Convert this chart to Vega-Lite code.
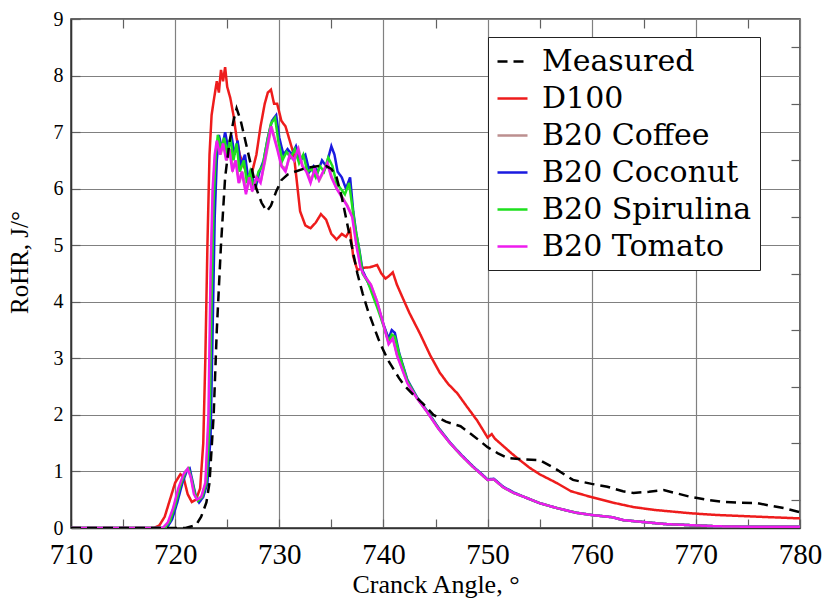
{
  "$schema": "https://vega.github.io/schema/vega-lite/v6.json",
  "width": 729,
  "height": 509,
  "autosize": "none",
  "padding": {"left": 71, "top": 19, "right": 24, "bottom": 71},
  "background": "white",
  "datasets": {
    "d": [
      {"s":"D100","a":710,"r":0},{"s":"D100","a":718,"r":0},{"s":"D100","a":718.5,"r":0.05},{"s":"D100","a":719,"r":0.2},{"s":"D100","a":719.5,"r":0.5},{"s":"D100","a":720,"r":0.8},{"s":"D100","a":720.5,"r":0.95},{"s":"D100","a":720.8,"r":0.9},{"s":"D100","a":721.2,"r":0.6},{"s":"D100","a":721.6,"r":0.46},{"s":"D100","a":722,"r":0.5},{"s":"D100","a":722.4,"r":0.7},{"s":"D100","a":722.7,"r":1.5},{"s":"D100","a":722.9,"r":3.0},{"s":"D100","a":723.1,"r":5.0},{"s":"D100","a":723.3,"r":6.6},{"s":"D100","a":723.5,"r":7.3},{"s":"D100","a":723.7,"r":7.55},{"s":"D100","a":724,"r":7.9},{"s":"D100","a":724.2,"r":7.7},{"s":"D100","a":724.4,"r":8.1},{"s":"D100","a":724.6,"r":7.9},{"s":"D100","a":724.8,"r":8.15},{"s":"D100","a":725,"r":7.8},{"s":"D100","a":725.3,"r":7.6},{"s":"D100","a":725.6,"r":7.3},{"s":"D100","a":725.9,"r":6.9},{"s":"D100","a":726.2,"r":6.6},{"s":"D100","a":726.6,"r":6.4},{"s":"D100","a":727,"r":6.2},{"s":"D100","a":727.4,"r":6.3},{"s":"D100","a":727.8,"r":6.6},{"s":"D100","a":728.2,"r":7.1},{"s":"D100","a":728.6,"r":7.5},{"s":"D100","a":728.9,"r":7.7},{"s":"D100","a":729.2,"r":7.75},{"s":"D100","a":729.5,"r":7.5},{"s":"D100","a":729.8,"r":7.5},{"s":"D100","a":730.2,"r":7.2},{"s":"D100","a":730.6,"r":7.1},{"s":"D100","a":731,"r":6.85},{"s":"D100","a":731.4,"r":6.6},{"s":"D100","a":731.7,"r":6.1},{"s":"D100","a":732,"r":5.6},{"s":"D100","a":732.5,"r":5.35},{"s":"D100","a":733,"r":5.3},{"s":"D100","a":733.5,"r":5.4},{"s":"D100","a":734,"r":5.55},{"s":"D100","a":734.5,"r":5.45},{"s":"D100","a":735,"r":5.2},{"s":"D100","a":735.5,"r":5.1},{"s":"D100","a":736,"r":5.2},{"s":"D100","a":736.4,"r":5.15},{"s":"D100","a":736.8,"r":5.27},{"s":"D100","a":737.1,"r":4.8},{"s":"D100","a":737.5,"r":4.56},{"s":"D100","a":738,"r":4.6},{"s":"D100","a":738.7,"r":4.61},{"s":"D100","a":739.4,"r":4.65},{"s":"D100","a":739.8,"r":4.5},{"s":"D100","a":740.2,"r":4.41},{"s":"D100","a":740.5,"r":4.45},{"s":"D100","a":740.9,"r":4.52},{"s":"D100","a":741.3,"r":4.3},{"s":"D100","a":741.8,"r":4.09},{"s":"D100","a":742.5,"r":3.8},{"s":"D100","a":743.5,"r":3.44},{"s":"D100","a":744.5,"r":3.05},{"s":"D100","a":745.4,"r":2.75},{"s":"D100","a":746.2,"r":2.55},{"s":"D100","a":747.1,"r":2.38},{"s":"D100","a":748,"r":2.15},{"s":"D100","a":749,"r":1.9},{"s":"D100","a":750,"r":1.6},{"s":"D100","a":750.4,"r":1.66},{"s":"D100","a":750.7,"r":1.58},{"s":"D100","a":751.5,"r":1.45},{"s":"D100","a":752.3,"r":1.32},{"s":"D100","a":753.1,"r":1.2},{"s":"D100","a":754,"r":1.07},{"s":"D100","a":755,"r":0.95},{"s":"D100","a":756.7,"r":0.79},{"s":"D100","a":758,"r":0.65},{"s":"D100","a":759.9,"r":0.55},{"s":"D100","a":762,"r":0.45},{"s":"D100","a":764,"r":0.37},{"s":"D100","a":766,"r":0.32},{"s":"D100","a":769.5,"r":0.26},{"s":"D100","a":772,"r":0.23},{"s":"D100","a":775.9,"r":0.2},{"s":"D100","a":780,"r":0.17},

      {"s":"B20 Coffee","a":710,"r":0},{"s":"B20 Coffee","a":718.9,"r":0},{"s":"B20 Coffee","a":719.4,"r":0.1},{"s":"B20 Coffee","a":719.9,"r":0.38},{"s":"B20 Coffee","a":720.4,"r":0.72},{"s":"B20 Coffee","a":720.9,"r":0.97},{"s":"B20 Coffee","a":721.25,"r":1.05},{"s":"B20 Coffee","a":721.55,"r":0.88},{"s":"B20 Coffee","a":721.85,"r":0.6},{"s":"B20 Coffee","a":722.15,"r":0.5},{"s":"B20 Coffee","a":722.55,"r":0.55},{"s":"B20 Coffee","a":722.95,"r":0.8},{"s":"B20 Coffee","a":723.25,"r":2.0},{"s":"B20 Coffee","a":723.45,"r":4.5},{"s":"B20 Coffee","a":723.65,"r":6.0},{"s":"B20 Coffee","a":723.85,"r":6.6},{"s":"B20 Coffee","a":724.05,"r":6.85},{"s":"B20 Coffee","a":724.35,"r":6.6},{"s":"B20 Coffee","a":724.65,"r":6.8},{"s":"B20 Coffee","a":724.95,"r":6.5},{"s":"B20 Coffee","a":725.25,"r":6.7},{"s":"B20 Coffee","a":725.55,"r":6.35},{"s":"B20 Coffee","a":725.85,"r":6.5},{"s":"B20 Coffee","a":726.15,"r":6.1},{"s":"B20 Coffee","a":726.45,"r":6.3},{"s":"B20 Coffee","a":726.85,"r":5.95},{"s":"B20 Coffee","a":727.15,"r":6.2},{"s":"B20 Coffee","a":727.45,"r":6.0},{"s":"B20 Coffee","a":727.85,"r":6.2},{"s":"B20 Coffee","a":728.25,"r":6.15},{"s":"B20 Coffee","a":728.65,"r":6.5},{"s":"B20 Coffee","a":728.95,"r":6.8},{"s":"B20 Coffee","a":729.25,"r":7.1},{"s":"B20 Coffee","a":729.55,"r":6.9},{"s":"B20 Coffee","a":729.85,"r":6.7},{"s":"B20 Coffee","a":730.25,"r":6.4},{"s":"B20 Coffee","a":730.65,"r":6.35},{"s":"B20 Coffee","a":731.05,"r":6.6},{"s":"B20 Coffee","a":731.45,"r":6.5},{"s":"B20 Coffee","a":731.85,"r":6.7},{"s":"B20 Coffee","a":732.25,"r":6.4},{"s":"B20 Coffee","a":732.65,"r":6.3},{"s":"B20 Coffee","a":733.05,"r":6.15},{"s":"B20 Coffee","a":733.45,"r":6.35},{"s":"B20 Coffee","a":733.85,"r":6.15},{"s":"B20 Coffee","a":734.25,"r":6.3},{"s":"B20 Coffee","a":734.65,"r":6.45},{"s":"B20 Coffee","a":735.05,"r":6.2},{"s":"B20 Coffee","a":735.55,"r":6.0},{"s":"B20 Coffee","a":736.05,"r":5.85},{"s":"B20 Coffee","a":736.55,"r":5.7},{"s":"B20 Coffee","a":737.05,"r":5.5},{"s":"B20 Coffee","a":737.45,"r":5.0},{"s":"B20 Coffee","a":737.85,"r":4.6},{"s":"B20 Coffee","a":738.25,"r":4.45},{"s":"B20 Coffee","a":738.8,"r":4.3},{"s":"B20 Coffee","a":739.4,"r":4.0},{"s":"B20 Coffee","a":740,"r":3.6},{"s":"B20 Coffee","a":740.5,"r":3.27},{"s":"B20 Coffee","a":740.9,"r":3.38},{"s":"B20 Coffee","a":741.3,"r":3.07},{"s":"B20 Coffee","a":742.3,"r":2.57},{"s":"B20 Coffee","a":743.2,"r":2.3},{"s":"B20 Coffee","a":744.2,"r":2.05},{"s":"B20 Coffee","a":745.3,"r":1.75},{"s":"B20 Coffee","a":746.4,"r":1.5},{"s":"B20 Coffee","a":747.5,"r":1.28},{"s":"B20 Coffee","a":748.6,"r":1.08},{"s":"B20 Coffee","a":749.4,"r":0.95},{"s":"B20 Coffee","a":750,"r":0.85},{"s":"B20 Coffee","a":750.6,"r":0.86},{"s":"B20 Coffee","a":751.5,"r":0.72},{"s":"B20 Coffee","a":752.5,"r":0.62},{"s":"B20 Coffee","a":753.5,"r":0.55},{"s":"B20 Coffee","a":755,"r":0.44},{"s":"B20 Coffee","a":756.7,"r":0.35},{"s":"B20 Coffee","a":758.5,"r":0.27},{"s":"B20 Coffee","a":760,"r":0.23},{"s":"B20 Coffee","a":761.5,"r":0.2},{"s":"B20 Coffee","a":762,"r":0.19},{"s":"B20 Coffee","a":763,"r":0.14},{"s":"B20 Coffee","a":764.7,"r":0.11},{"s":"B20 Coffee","a":767,"r":0.07},{"s":"B20 Coffee","a":769.5,"r":0.05},{"s":"B20 Coffee","a":772,"r":0.03},{"s":"B20 Coffee","a":776,"r":0.02},{"s":"B20 Coffee","a":780,"r":0.02},

      {"s":"B20 Coconut","a":710,"r":0},{"s":"B20 Coconut","a":719.2,"r":0},{"s":"B20 Coconut","a":719.7,"r":0.15},{"s":"B20 Coconut","a":720.2,"r":0.45},{"s":"B20 Coconut","a":720.7,"r":0.8},{"s":"B20 Coconut","a":721.1,"r":1.0},{"s":"B20 Coconut","a":721.4,"r":1.05},{"s":"B20 Coconut","a":721.7,"r":0.8},{"s":"B20 Coconut","a":722,"r":0.55},{"s":"B20 Coconut","a":722.3,"r":0.45},{"s":"B20 Coconut","a":722.7,"r":0.55},{"s":"B20 Coconut","a":723.1,"r":0.8},{"s":"B20 Coconut","a":723.4,"r":1.6},{"s":"B20 Coconut","a":723.6,"r":3.5},{"s":"B20 Coconut","a":723.8,"r":5.5},{"s":"B20 Coconut","a":724,"r":6.5},{"s":"B20 Coconut","a":724.2,"r":6.95},{"s":"B20 Coconut","a":724.5,"r":6.7},{"s":"B20 Coconut","a":724.8,"r":7.0},{"s":"B20 Coconut","a":725.1,"r":6.7},{"s":"B20 Coconut","a":725.4,"r":6.95},{"s":"B20 Coconut","a":725.7,"r":6.6},{"s":"B20 Coconut","a":726,"r":6.85},{"s":"B20 Coconut","a":726.3,"r":6.4},{"s":"B20 Coconut","a":726.7,"r":6.6},{"s":"B20 Coconut","a":727,"r":6.2},{"s":"B20 Coconut","a":727.3,"r":6.3},{"s":"B20 Coconut","a":727.7,"r":6.0},{"s":"B20 Coconut","a":728.1,"r":6.3},{"s":"B20 Coconut","a":728.5,"r":6.5},{"s":"B20 Coconut","a":728.9,"r":6.9},{"s":"B20 Coconut","a":729.3,"r":7.2},{"s":"B20 Coconut","a":729.7,"r":7.3},{"s":"B20 Coconut","a":730,"r":6.9},{"s":"B20 Coconut","a":730.4,"r":6.6},{"s":"B20 Coconut","a":730.8,"r":6.7},{"s":"B20 Coconut","a":731.2,"r":6.6},{"s":"B20 Coconut","a":731.6,"r":6.75},{"s":"B20 Coconut","a":732,"r":6.5},{"s":"B20 Coconut","a":732.5,"r":6.6},{"s":"B20 Coconut","a":732.9,"r":6.3},{"s":"B20 Coconut","a":733.3,"r":6.4},{"s":"B20 Coconut","a":733.7,"r":6.3},{"s":"B20 Coconut","a":734.1,"r":6.5},{"s":"B20 Coconut","a":734.5,"r":6.4},{"s":"B20 Coconut","a":735,"r":6.75},{"s":"B20 Coconut","a":735.3,"r":6.6},{"s":"B20 Coconut","a":735.6,"r":6.3},{"s":"B20 Coconut","a":736,"r":6.2},{"s":"B20 Coconut","a":736.4,"r":6.0},{"s":"B20 Coconut","a":736.8,"r":6.2},{"s":"B20 Coconut","a":737.1,"r":5.6},{"s":"B20 Coconut","a":737.4,"r":5.2},{"s":"B20 Coconut","a":737.7,"r":4.9},{"s":"B20 Coconut","a":738,"r":4.55},{"s":"B20 Coconut","a":738.5,"r":4.35},{"s":"B20 Coconut","a":739,"r":4.15},{"s":"B20 Coconut","a":739.5,"r":3.9},{"s":"B20 Coconut","a":740,"r":3.6},{"s":"B20 Coconut","a":740.5,"r":3.35},{"s":"B20 Coconut","a":740.8,"r":3.5},{"s":"B20 Coconut","a":741.1,"r":3.45},{"s":"B20 Coconut","a":741.5,"r":3.1},{"s":"B20 Coconut","a":742.3,"r":2.62},{"s":"B20 Coconut","a":743.2,"r":2.32},{"s":"B20 Coconut","a":744.2,"r":2.07},{"s":"B20 Coconut","a":745.3,"r":1.77},{"s":"B20 Coconut","a":746.4,"r":1.51},{"s":"B20 Coconut","a":747.5,"r":1.29},{"s":"B20 Coconut","a":748.6,"r":1.09},{"s":"B20 Coconut","a":749.4,"r":0.96},{"s":"B20 Coconut","a":750,"r":0.86},{"s":"B20 Coconut","a":750.6,"r":0.87},{"s":"B20 Coconut","a":751.5,"r":0.73},{"s":"B20 Coconut","a":752.5,"r":0.63},{"s":"B20 Coconut","a":753.5,"r":0.55},{"s":"B20 Coconut","a":755,"r":0.44},{"s":"B20 Coconut","a":756.7,"r":0.35},{"s":"B20 Coconut","a":758.5,"r":0.27},{"s":"B20 Coconut","a":760,"r":0.23},{"s":"B20 Coconut","a":761.5,"r":0.2},{"s":"B20 Coconut","a":762,"r":0.19},{"s":"B20 Coconut","a":763,"r":0.14},{"s":"B20 Coconut","a":764.7,"r":0.11},{"s":"B20 Coconut","a":767,"r":0.07},{"s":"B20 Coconut","a":769.5,"r":0.05},{"s":"B20 Coconut","a":772,"r":0.03},{"s":"B20 Coconut","a":776,"r":0.02},{"s":"B20 Coconut","a":780,"r":0.02},

      {"s":"B20 Spirulina","a":710,"r":0},{"s":"B20 Spirulina","a":719,"r":0},{"s":"B20 Spirulina","a":719.5,"r":0.12},{"s":"B20 Spirulina","a":720,"r":0.4},{"s":"B20 Spirulina","a":720.5,"r":0.75},{"s":"B20 Spirulina","a":721,"r":1.0},{"s":"B20 Spirulina","a":721.3,"r":1.05},{"s":"B20 Spirulina","a":721.6,"r":0.85},{"s":"B20 Spirulina","a":721.9,"r":0.6},{"s":"B20 Spirulina","a":722.2,"r":0.48},{"s":"B20 Spirulina","a":722.6,"r":0.55},{"s":"B20 Spirulina","a":723,"r":0.8},{"s":"B20 Spirulina","a":723.3,"r":1.8},{"s":"B20 Spirulina","a":723.5,"r":4.0},{"s":"B20 Spirulina","a":723.7,"r":5.8},{"s":"B20 Spirulina","a":723.9,"r":6.6},{"s":"B20 Spirulina","a":724.1,"r":6.95},{"s":"B20 Spirulina","a":724.4,"r":6.7},{"s":"B20 Spirulina","a":724.7,"r":6.9},{"s":"B20 Spirulina","a":725,"r":6.6},{"s":"B20 Spirulina","a":725.3,"r":6.9},{"s":"B20 Spirulina","a":725.6,"r":6.5},{"s":"B20 Spirulina","a":725.9,"r":6.8},{"s":"B20 Spirulina","a":726.2,"r":6.3},{"s":"B20 Spirulina","a":726.6,"r":6.5},{"s":"B20 Spirulina","a":726.9,"r":6.1},{"s":"B20 Spirulina","a":727.2,"r":6.3},{"s":"B20 Spirulina","a":727.6,"r":6.0},{"s":"B20 Spirulina","a":728,"r":6.3},{"s":"B20 Spirulina","a":728.4,"r":6.4},{"s":"B20 Spirulina","a":728.8,"r":6.8},{"s":"B20 Spirulina","a":729.2,"r":7.15},{"s":"B20 Spirulina","a":729.6,"r":7.25},{"s":"B20 Spirulina","a":729.9,"r":6.85},{"s":"B20 Spirulina","a":730.3,"r":6.5},{"s":"B20 Spirulina","a":730.7,"r":6.65},{"s":"B20 Spirulina","a":731.1,"r":6.55},{"s":"B20 Spirulina","a":731.5,"r":6.7},{"s":"B20 Spirulina","a":731.9,"r":6.45},{"s":"B20 Spirulina","a":732.3,"r":6.6},{"s":"B20 Spirulina","a":732.7,"r":6.3},{"s":"B20 Spirulina","a":733.1,"r":6.35},{"s":"B20 Spirulina","a":733.5,"r":6.2},{"s":"B20 Spirulina","a":733.9,"r":6.4},{"s":"B20 Spirulina","a":734.3,"r":6.3},{"s":"B20 Spirulina","a":734.7,"r":6.55},{"s":"B20 Spirulina","a":735.1,"r":6.4},{"s":"B20 Spirulina","a":735.5,"r":6.1},{"s":"B20 Spirulina","a":735.9,"r":6.0},{"s":"B20 Spirulina","a":736.3,"r":5.9},{"s":"B20 Spirulina","a":736.7,"r":6.1},{"s":"B20 Spirulina","a":737,"r":5.7},{"s":"B20 Spirulina","a":737.3,"r":5.3},{"s":"B20 Spirulina","a":737.6,"r":5.0},{"s":"B20 Spirulina","a":738,"r":4.5},{"s":"B20 Spirulina","a":738.5,"r":4.35},{"s":"B20 Spirulina","a":739,"r":4.1},{"s":"B20 Spirulina","a":739.5,"r":3.85},{"s":"B20 Spirulina","a":740,"r":3.58},{"s":"B20 Spirulina","a":740.5,"r":3.3},{"s":"B20 Spirulina","a":740.8,"r":3.42},{"s":"B20 Spirulina","a":741.1,"r":3.38},{"s":"B20 Spirulina","a":741.5,"r":3.08},{"s":"B20 Spirulina","a":742.3,"r":2.6},{"s":"B20 Spirulina","a":743.2,"r":2.31},{"s":"B20 Spirulina","a":744.2,"r":2.06},{"s":"B20 Spirulina","a":745.3,"r":1.76},{"s":"B20 Spirulina","a":746.4,"r":1.5},{"s":"B20 Spirulina","a":747.5,"r":1.28},{"s":"B20 Spirulina","a":748.6,"r":1.08},{"s":"B20 Spirulina","a":749.4,"r":0.95},{"s":"B20 Spirulina","a":750,"r":0.85},{"s":"B20 Spirulina","a":750.6,"r":0.86},{"s":"B20 Spirulina","a":751.5,"r":0.72},{"s":"B20 Spirulina","a":752.5,"r":0.62},{"s":"B20 Spirulina","a":753.5,"r":0.55},{"s":"B20 Spirulina","a":755,"r":0.44},{"s":"B20 Spirulina","a":756.7,"r":0.35},{"s":"B20 Spirulina","a":758.5,"r":0.27},{"s":"B20 Spirulina","a":760,"r":0.23},{"s":"B20 Spirulina","a":761.5,"r":0.2},{"s":"B20 Spirulina","a":762,"r":0.19},{"s":"B20 Spirulina","a":763,"r":0.14},{"s":"B20 Spirulina","a":764.7,"r":0.11},{"s":"B20 Spirulina","a":767,"r":0.07},{"s":"B20 Spirulina","a":769.5,"r":0.05},{"s":"B20 Spirulina","a":772,"r":0.03},{"s":"B20 Spirulina","a":776,"r":0.02},{"s":"B20 Spirulina","a":780,"r":0.02},

      {"s":"B20 Tomato","a":710,"r":0},{"s":"B20 Tomato","a":718.8,"r":0},{"s":"B20 Tomato","a":719.3,"r":0.1},{"s":"B20 Tomato","a":719.8,"r":0.35},{"s":"B20 Tomato","a":720.3,"r":0.7},{"s":"B20 Tomato","a":720.8,"r":0.95},{"s":"B20 Tomato","a":721.2,"r":1.05},{"s":"B20 Tomato","a":721.5,"r":0.9},{"s":"B20 Tomato","a":721.8,"r":0.6},{"s":"B20 Tomato","a":722.1,"r":0.5},{"s":"B20 Tomato","a":722.5,"r":0.55},{"s":"B20 Tomato","a":722.9,"r":0.8},{"s":"B20 Tomato","a":723.2,"r":2.0},{"s":"B20 Tomato","a":723.4,"r":4.5},{"s":"B20 Tomato","a":723.6,"r":6.0},{"s":"B20 Tomato","a":723.8,"r":6.6},{"s":"B20 Tomato","a":724,"r":6.85},{"s":"B20 Tomato","a":724.3,"r":6.6},{"s":"B20 Tomato","a":724.6,"r":6.8},{"s":"B20 Tomato","a":724.9,"r":6.5},{"s":"B20 Tomato","a":725.2,"r":6.7},{"s":"B20 Tomato","a":725.5,"r":6.3},{"s":"B20 Tomato","a":725.8,"r":6.5},{"s":"B20 Tomato","a":726.1,"r":6.1},{"s":"B20 Tomato","a":726.4,"r":6.3},{"s":"B20 Tomato","a":726.8,"r":5.9},{"s":"B20 Tomato","a":727.1,"r":6.2},{"s":"B20 Tomato","a":727.4,"r":5.95},{"s":"B20 Tomato","a":727.8,"r":6.2},{"s":"B20 Tomato","a":728.2,"r":6.1},{"s":"B20 Tomato","a":728.6,"r":6.5},{"s":"B20 Tomato","a":728.9,"r":6.8},{"s":"B20 Tomato","a":729.2,"r":7.1},{"s":"B20 Tomato","a":729.5,"r":6.9},{"s":"B20 Tomato","a":729.8,"r":6.7},{"s":"B20 Tomato","a":730.2,"r":6.4},{"s":"B20 Tomato","a":730.6,"r":6.3},{"s":"B20 Tomato","a":731,"r":6.6},{"s":"B20 Tomato","a":731.4,"r":6.5},{"s":"B20 Tomato","a":731.8,"r":6.7},{"s":"B20 Tomato","a":732.2,"r":6.4},{"s":"B20 Tomato","a":732.6,"r":6.3},{"s":"B20 Tomato","a":733,"r":6.1},{"s":"B20 Tomato","a":733.4,"r":6.35},{"s":"B20 Tomato","a":733.8,"r":6.15},{"s":"B20 Tomato","a":734.2,"r":6.3},{"s":"B20 Tomato","a":734.6,"r":6.45},{"s":"B20 Tomato","a":735,"r":6.2},{"s":"B20 Tomato","a":735.5,"r":6.0},{"s":"B20 Tomato","a":736,"r":5.85},{"s":"B20 Tomato","a":736.5,"r":5.7},{"s":"B20 Tomato","a":737,"r":5.5},{"s":"B20 Tomato","a":737.4,"r":5.0},{"s":"B20 Tomato","a":737.8,"r":4.6},{"s":"B20 Tomato","a":738.2,"r":4.45},{"s":"B20 Tomato","a":738.8,"r":4.3},{"s":"B20 Tomato","a":739.4,"r":4.0},{"s":"B20 Tomato","a":740,"r":3.6},{"s":"B20 Tomato","a":740.5,"r":3.25},{"s":"B20 Tomato","a":740.9,"r":3.35},{"s":"B20 Tomato","a":741.3,"r":3.05},{"s":"B20 Tomato","a":742.3,"r":2.56},{"s":"B20 Tomato","a":743.2,"r":2.3},{"s":"B20 Tomato","a":744.2,"r":2.05},{"s":"B20 Tomato","a":745.3,"r":1.75},{"s":"B20 Tomato","a":746.4,"r":1.5},{"s":"B20 Tomato","a":747.5,"r":1.28},{"s":"B20 Tomato","a":748.6,"r":1.08},{"s":"B20 Tomato","a":749.4,"r":0.95},{"s":"B20 Tomato","a":750,"r":0.85},{"s":"B20 Tomato","a":750.6,"r":0.86},{"s":"B20 Tomato","a":751.5,"r":0.72},{"s":"B20 Tomato","a":752.5,"r":0.62},{"s":"B20 Tomato","a":753.5,"r":0.55},{"s":"B20 Tomato","a":755,"r":0.44},{"s":"B20 Tomato","a":756.7,"r":0.35},{"s":"B20 Tomato","a":758.5,"r":0.27},{"s":"B20 Tomato","a":760,"r":0.23},{"s":"B20 Tomato","a":761.5,"r":0.2},{"s":"B20 Tomato","a":762,"r":0.19},{"s":"B20 Tomato","a":763,"r":0.14},{"s":"B20 Tomato","a":764.7,"r":0.11},{"s":"B20 Tomato","a":767,"r":0.07},{"s":"B20 Tomato","a":769.5,"r":0.05},{"s":"B20 Tomato","a":772,"r":0.03},{"s":"B20 Tomato","a":776,"r":0.02},{"s":"B20 Tomato","a":780,"r":0.02},

      {"s":"Measured","a":710,"r":0},{"s":"Measured","a":721,"r":0},{"s":"Measured","a":722,"r":0.05},{"s":"Measured","a":722.5,"r":0.2},{"s":"Measured","a":723,"r":0.45},{"s":"Measured","a":723.3,"r":0.8},{"s":"Measured","a":723.7,"r":2.0},{"s":"Measured","a":724,"r":3.5},{"s":"Measured","a":724.4,"r":5.0},{"s":"Measured","a":724.8,"r":6.2},{"s":"Measured","a":725.2,"r":6.8},{"s":"Measured","a":725.6,"r":7.2},{"s":"Measured","a":725.9,"r":7.42},{"s":"Measured","a":726.3,"r":7.2},{"s":"Measured","a":726.8,"r":6.8},{"s":"Measured","a":727.3,"r":6.4},{"s":"Measured","a":727.8,"r":6.0},{"s":"Measured","a":728.3,"r":5.75},{"s":"Measured","a":728.8,"r":5.6},{"s":"Measured","a":729.2,"r":5.7},{"s":"Measured","a":729.7,"r":5.95},{"s":"Measured","a":730.2,"r":6.15},{"s":"Measured","a":730.8,"r":6.25},{"s":"Measured","a":731.5,"r":6.3},{"s":"Measured","a":732.3,"r":6.35},{"s":"Measured","a":733,"r":6.38},{"s":"Measured","a":733.8,"r":6.4},{"s":"Measured","a":734.5,"r":6.4},{"s":"Measured","a":735,"r":6.35},{"s":"Measured","a":735.5,"r":6.2},{"s":"Measured","a":736,"r":5.85},{"s":"Measured","a":736.5,"r":5.4},{"s":"Measured","a":737,"r":4.95},{"s":"Measured","a":737.5,"r":4.5},{"s":"Measured","a":738,"r":4.15},{"s":"Measured","a":738.5,"r":3.85},{"s":"Measured","a":739,"r":3.6},{"s":"Measured","a":739.5,"r":3.35},{"s":"Measured","a":740,"r":3.14},{"s":"Measured","a":740.5,"r":2.95},{"s":"Measured","a":741,"r":2.8},{"s":"Measured","a":741.5,"r":2.65},{"s":"Measured","a":742,"r":2.52},{"s":"Measured","a":742.9,"r":2.35},{"s":"Measured","a":743.8,"r":2.2},{"s":"Measured","a":744.8,"r":2.0},{"s":"Measured","a":746,"r":1.88},{"s":"Measured","a":747.4,"r":1.8},{"s":"Measured","a":748.5,"r":1.65},{"s":"Measured","a":750,"r":1.43},{"s":"Measured","a":751,"r":1.32},{"s":"Measured","a":751.9,"r":1.24},{"s":"Measured","a":753,"r":1.22},{"s":"Measured","a":755,"r":1.2},{"s":"Measured","a":756.5,"r":1.05},{"s":"Measured","a":758.2,"r":0.85},{"s":"Measured","a":760,"r":0.78},{"s":"Measured","a":761.5,"r":0.73},{"s":"Measured","a":763,"r":0.65},{"s":"Measured","a":764,"r":0.62},{"s":"Measured","a":765.5,"r":0.64},{"s":"Measured","a":766.9,"r":0.67},{"s":"Measured","a":768,"r":0.62},{"s":"Measured","a":769.5,"r":0.55},{"s":"Measured","a":771,"r":0.5},{"s":"Measured","a":772.6,"r":0.46},{"s":"Measured","a":774,"r":0.45},{"s":"Measured","a":775.9,"r":0.44},{"s":"Measured","a":777,"r":0.4},{"s":"Measured","a":778.5,"r":0.35},{"s":"Measured","a":780,"r":0.28}
    ]
  },
  "data": {"name": "d"},
  "layer": [
    {
      "mark": {"type": "line", "strokeWidth": 2.5, "clip": true},
      "encoding": {
        "x": {
          "field": "a", "type": "quantitative",
          "scale": {"domain": [710, 780], "nice": false, "zero": false},
          "axis": {
            "orient": "bottom",
            "values": [710,715,720,725,730,735,740,745,750,755,760,765,770,775,780],
            "labelExpr": "datum.value % 10 === 0 ? datum.label : ''",
            "format": "d",
            "grid": true,
            "gridColor": "#808080",
            "gridWidth": 1.2,
            "gridOpacity": {"condition": {"test": "datum.value % 10 !== 0", "value": 0}, "value": 1},
            "tickSize": -9,
            "tickColor": "#606060",
            "tickWidth": 1.2,
            "labelFont": "Liberation Serif",
            "labelFontSize": 29,
            "labelColor": "black",
            "labelPadding": 21,
            "labelFlush": false,
            "labelOverlap": false,
            "domainColor": "#333333",
            "domainWidth": 1.5,
            "title": "Cranck Angle, °",
            "titleFont": "Liberation Serif",
            "titleFontSize": 26,
            "titleFontWeight": "normal",
            "titleColor": "black",
            "titlePadding": 2
          }
        },
        "y": {
          "field": "r", "type": "quantitative",
          "scale": {"domain": [0, 9], "nice": false},
          "axis": {
            "orient": "left",
            "values": [0,0.5,1,1.5,2,2.5,3,3.5,4,4.5,5,5.5,6,6.5,7,7.5,8,8.5,9],
            "labelExpr": "datum.value % 1 === 0 ? datum.label : ''",
            "format": "d",
            "grid": true,
            "gridColor": "#808080",
            "gridWidth": 1.2,
            "gridOpacity": {"condition": {"test": "datum.value % 1 !== 0", "value": 0}, "value": 1},
            "tickSize": -9,
            "tickColor": "#606060",
            "tickWidth": 1.2,
            "labelFont": "Liberation Serif",
            "labelFontSize": 20,
            "labelColor": "black",
            "labelPadding": 17,
            "labelFlush": false,
            "labelOverlap": false,
            "domainColor": "#333333",
            "domainWidth": 1.5,
            "title": "RoHR, J/°",
            "titleFont": "Liberation Serif",
            "titleFontSize": 25,
            "titleFontWeight": "normal",
            "titleColor": "black",
            "titlePadding": 21,
            "titleY": 243
          }
        },
        "color": {
          "field": "s", "type": "nominal",
          "scale": {
            "domain": ["Measured", "D100", "B20 Coffee", "B20 Coconut", "B20 Spirulina", "B20 Tomato"],
            "range": ["#000000", "#ee1c1c", "#bc8f8f", "#1a1ae0", "#1ee01e", "#ee1cee"]
          },
          "legend": {
            "title": null,
            "orient": "none",
            "legendX": 417,
            "legendY": 18,
            "fillColor": "white",
            "strokeColor": "#222222",
            "padding": 8,
            "symbolType": "stroke",
            "symbolSize": 900,
            "symbolStrokeWidth": 2.5,
            "labelFont": "DejaVu Serif",
            "labelFontSize": 30,
            "labelColor": "black",
            "labelOffset": 13,
            "labelLimit": 400,
            "rowPadding": 5
          }
        },
        "strokeDash": {
          "field": "s", "type": "nominal",
          "scale": {
            "domain": ["Measured", "D100", "B20 Coffee", "B20 Coconut", "B20 Spirulina", "B20 Tomato"],
            "range": [[10, 6], [1, 0], [1, 0], [1, 0], [1, 0], [1, 0]]
          },
          "legend": {
            "title": null,
            "orient": "none",
            "legendX": 417,
            "legendY": 18,
            "fillColor": "white",
            "strokeColor": "#222222",
            "padding": 8,
            "symbolType": "stroke",
            "symbolSize": 900,
            "symbolStrokeWidth": 2.5,
            "labelFont": "DejaVu Serif",
            "labelFontSize": 30,
            "labelColor": "black",
            "labelOffset": 13,
            "labelLimit": 400,
            "rowPadding": 5
          }
        }
      }
    },
    {
      "mark": {"type": "line", "opacity": 0},
      "encoding": {
        "x": {
          "field": "a", "type": "quantitative",
          "scale": {"domain": [710, 780], "nice": false, "zero": false},
          "axis": {"orient": "top", "values": [715,725,735,745,755,765,775], "labels": false, "grid": false, "domain": false, "tickSize": -9, "tickColor": "#606060", "tickWidth": 1.2, "title": null}
        },
        "y": {
          "field": "r", "type": "quantitative",
          "scale": {"domain": [0, 9], "nice": false},
          "axis": {"orient": "right", "values": [0.5,1.5,2.5,3.5,4.5,5.5,6.5,7.5,8.5], "labels": false, "grid": false, "domain": false, "tickSize": -9, "tickColor": "#606060", "tickWidth": 1.2, "title": null}
        },
        "detail": {"field": "s", "type": "nominal"}
      }
    }
  ],
  "resolve": {"axis": {"x": "independent", "y": "independent"}},
  "config": {
    "font": "Liberation Serif",
    "axis": {"labelFont": "Liberation Serif", "titleFont": "Liberation Serif"},
    "legend": {"labelFont": "DejaVu Serif"},
    "view": {"stroke": "#333333", "strokeWidth": 1.5}
  }
}
